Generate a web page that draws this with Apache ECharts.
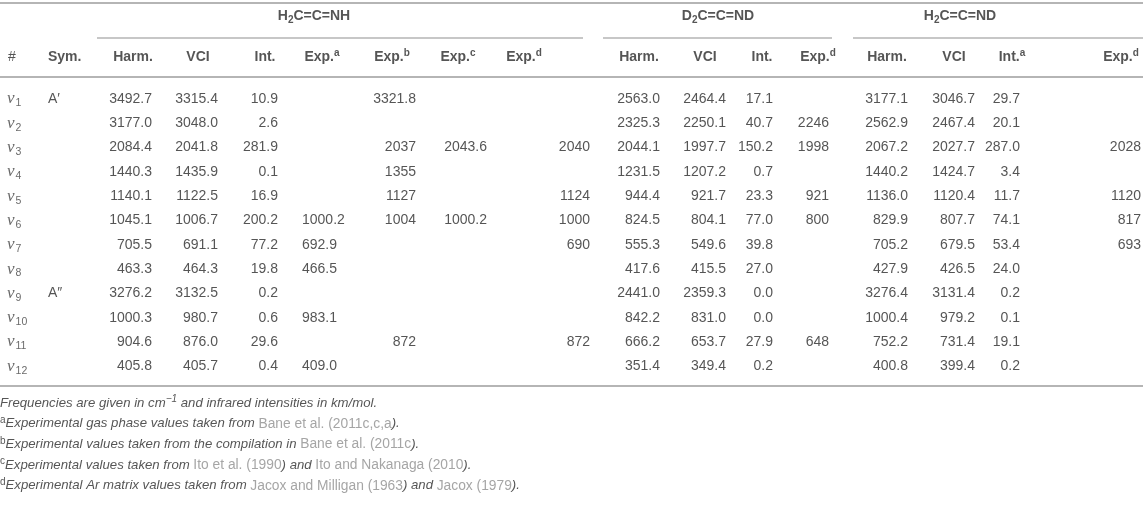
<!DOCTYPE html>
<html>
<head>
<meta charset="utf-8">
<script src="https://cdn.jsdelivr.net/npm/echarts@6/dist/echarts.min.js"></script>
<style>
html,body{margin:0;padding:0;background:#fff;}
#chart{width:1143px;height:525px;}
</style>
</head>
<body>
<div id="chart"></div>
<script>
// ---------- DATA ----------
var modeNumbers = ['1','2','3','4','5','6','7','8','9','10','11','12'];
var symmetry = ['A′','','','','','','','','A″','','',''];

// H2C=C=NH
var harmNH = ['3492.7','3177.0','2084.4','1440.3','1140.1','1045.1','705.5','463.3','3276.2','1000.3','904.6','405.8'];
var vciNH  = ['3315.4','3048.0','2041.8','1435.9','1122.5','1006.7','691.1','464.3','3132.5','980.7','876.0','405.7'];
var intNH  = ['10.9','2.6','281.9','0.1','16.9','200.2','77.2','19.8','0.2','0.6','29.6','0.4'];
var expANH = ['','','','','','1000.2','692.9','466.5','','983.1','','409.0'];
var expBNH = ['3321.8','','2037','1355','1127','1004','','','','','872',''];
var expCNH = ['','','2043.6','','','1000.2','','','','','',''];
var expDNH = ['','','2040','','1124','1000','690','','','','872',''];

// D2C=C=ND
var harmDD = ['2563.0','2325.3','2044.1','1231.5','944.4','824.5','555.3','417.6','2441.0','842.2','666.2','351.4'];
var vciDD  = ['2464.4','2250.1','1997.7','1207.2','921.7','804.1','549.6','415.5','2359.3','831.0','653.7','349.4'];
var intDD  = ['17.1','40.7','150.2','0.7','23.3','77.0','39.8','27.0','0.0','0.0','27.9','0.2'];
var expDDD = ['','2246','1998','','921','800','','','','','648',''];

// H2C=C=ND
var harmHD = ['3177.1','2562.9','2067.2','1440.2','1136.0','829.9','705.2','427.9','3276.4','1000.4','752.2','400.8'];
var vciHD  = ['3046.7','2467.4','2027.7','1424.7','1120.4','807.7','679.5','426.5','3131.4','979.2','731.4','399.4'];
var intHD  = ['29.7','20.1','287.0','3.4','11.7','74.1','53.4','24.0','0.2','0.1','19.1','0.2'];
var expDHD = ['','','2028','','1120','817','693','','','','',''];

// Header texts
var groupTitles = ['{b|H}{bs|2}{b|C=C=NH}', '{b|D}{bs|2}{b|C=C=ND}', '{b|H}{bs|2}{b|C=C=ND}'];
var columnTitles = ['#','Sym.','Harm.','VCI','Int.','Exp.{bsup|a}','Exp.{bsup|b}','Exp.{bsup|c}','Exp.{bsup|d}',
                    'Harm.','VCI','Int.','Exp.{bsup|d}','Harm.','VCI','Int.{bsup|a}','Exp.{bsup|d}'];

var footnotes = [
  '{i|Frequencies are given in cm}{isup|−1}{i| and infrared intensities in km/mol.}',
  '{sup|a}{i|Experimental gas phase values taken from }{c|Bane et al. (2011c,c,a}{i|).}',
  '{sup|b}{i|Experimental values taken from the compilation in }{c|Bane et al. (2011c}{i|).}',
  '{sup|c}{i|Experimental values taken from }{c|Ito et al. (1990}{i|) and }{c|Ito and Nakanaga (2010}{i|).}',
  '{sup|d}{i|Experimental Ar matrix values taken from }{c|Jacox and Milligan (1963}{i|) and }{c|Jacox (1979}{i|).}'
];

// ---------- LAYOUT ----------
var W = 1143, H = 525;
var FONT = '"Liberation Sans", Arial, sans-serif';
var TXT = '#2b2b2b';
var RULE = '#b5b5b5';
var yGroup = 16, yGroupRule = 37.5, yHead = 57, yHeadRule = 77, yTopRule = 3;
var yRow0 = 99, rowStep = 24.3, yBottomRule = 386;
var yFoot0 = 403, footStep = 20.7;

// column anchors: [x, align]
var colAnchor = [
  [7,'left'],[48,'left'],
  [152,'right'],[218,'right'],[278,'right'],[302,'left'],[416,'right'],[487,'right'],[590,'right'],
  [660,'right'],[726,'right'],[773,'right'],[829,'right'],
  [908,'right'],[975,'right'],[1020,'right'],[1141,'right']
];
var headAnchor = [
  [8,'left'],[48,'left'],
  [133,'center'],[198,'center'],[265,'center'],[322,'center'],[392,'center'],[458,'center'],[524,'center'],
  [639,'center'],[705,'center'],[762,'center'],[818,'center'],
  [887,'center'],[954,'center'],[1012,'center'],[1121,'center']
];
var groupCenter = [314, 718, 960];
var groupSpan = [[97,583],[603,832],[853,1143]];

var columns = [null, symmetry, harmNH, vciNH, intNH, expANH, expBNH, expCNH, expDNH,
               harmDD, vciDD, intDD, expDDD, harmHD, vciHD, intHD, expDHD];

var rich = {
  v:   {fontFamily:'"Liberation Serif", serif', fontStyle:'italic', fontSize:17, color:'#444', lineHeight:20},
  vs:  {fontFamily:FONT, fontSize:10.5, color:'#444', verticalAlign:'bottom', lineHeight:13, padding:[0,0,0,1]},
  n:   {fontFamily:FONT, fontSize:14, color:TXT},
  b:   {fontFamily:FONT, fontSize:14, fontWeight:'bold', color:TXT, lineHeight:18},
  bs:  {fontFamily:FONT, fontSize:10, fontWeight:'bold', color:TXT, verticalAlign:'bottom', lineHeight:12},
  bsup:{fontFamily:FONT, fontSize:10, fontWeight:'bold', color:TXT, verticalAlign:'top', lineHeight:12},
  i:   {fontFamily:FONT, fontSize:13.2, fontStyle:'italic', color:TXT, lineHeight:17},
  isup:{fontFamily:FONT, fontSize:10, fontStyle:'italic', color:TXT, verticalAlign:'top', lineHeight:11},
  sup: {fontFamily:FONT, fontSize:10, color:TXT, verticalAlign:'top', lineHeight:11},
  c:   {fontFamily:FONT, fontSize:13.8, color:'#8f8f8f', lineHeight:17}
};

function pt(x, y, text, align) {
  return {value:[x, y], label:{formatter:text, align:align}};
}

var cells = [];
groupTitles.forEach(function(t, g){ cells.push(pt(groupCenter[g], yGroup, t, 'center')); });
columnTitles.forEach(function(t, j){
  var txt = '{b|' + t.replace(/\{bsup\|([a-z])\}/g, '}{bsup|$1}{b|') + '}';
  txt = txt.replace(/\{b\|\}/g,'');
  if (j === 0) txt = '{n|#}';
  cells.push(pt(headAnchor[j][0], yHead, txt, headAnchor[j][1]));
});
for (var i = 0; i < modeNumbers.length; i++) {
  var y = yRow0 + i * rowStep;
  cells.push(pt(colAnchor[0][0], y, '{v|ν}{vs|' + modeNumbers[i] + '}', 'left'));
  for (var j = 1; j < columns.length; j++) {
    var s = columns[j][i];
    if (s !== '') cells.push(pt(colAnchor[j][0], y, '{n|' + s + '}', colAnchor[j][1]));
  }
}
footnotes.forEach(function(t, k){ cells.push(pt(0, yFoot0 + k * footStep, t, 'left')); });

function hline(x1, x2, y, w) {
  return [{coord:[x1, y], lineStyle:{width:w}}, {coord:[x2, y]}];
}
var rules = [hline(0, W, yTopRule, 2), hline(0, W, yHeadRule, 2), hline(0, W, yBottomRule, 2)];
groupSpan.forEach(function(s){ rules.push(hline(s[0], s[1], yGroupRule, 1.5)); });

var chart = echarts.init(document.getElementById('chart'), null, {renderer:'canvas'});
chart.setOption({
  animation:false,
  backgroundColor:'#fff',
  grid:{left:0, right:0, top:0, bottom:0},
  xAxis:{type:'value', min:0, max:W, show:false},
  yAxis:{type:'value', min:0, max:H, inverse:true, show:false},
  series:[{
    type:'scatter',
    symbolSize:0,
    silent:true,
    data:cells,
    label:{show:true, position:'inside', verticalAlign:'middle', rich:rich, fontFamily:FONT, fontSize:14, color:TXT},
    markLine:{
      silent:true, symbol:['none','none'], animation:false,
      label:{show:false},
      lineStyle:{color:RULE, type:'solid', width:1.5},
      data:rules
    }
  }]
});
</script>
</body>
</html>
